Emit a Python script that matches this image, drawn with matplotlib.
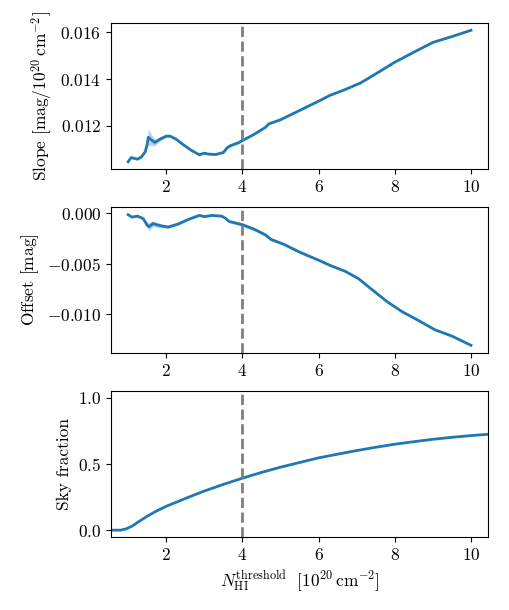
import matplotlib
matplotlib.use("Agg")
import matplotlib.pyplot as plt
import numpy as np

plt.rcParams['font.family'] = 'serif'
plt.rcParams['font.serif'] = ['cmr10', 'DejaVu Serif']
plt.rcParams['mathtext.fontset'] = 'cm'
plt.rcParams['axes.formatter.use_mathtext'] = True
plt.rcParams['font.size'] = 12.5

# slope vs threshold
x_slope = [1.0, 1.08, 1.15, 1.25, 1.35, 1.45, 1.5, 1.53, 1.6, 1.7, 1.85, 2.0, 2.1, 2.25,
           2.45, 2.65, 2.87, 3.0, 3.1, 3.3, 3.5, 3.6, 3.7, 3.9, 4.0, 4.3, 4.6, 4.7, 5.0,
           5.5, 6.0, 6.3, 6.7, 7.1, 7.5, 8.0, 8.5, 9.0, 9.5, 10.0]
slope = [0.01045, 0.01063, 0.0106, 0.01056, 0.01066, 0.01088, 0.0112, 0.0115, 0.0114,
         0.01128, 0.01143, 0.01155, 0.01155, 0.01143, 0.01118, 0.01095, 0.01075, 0.01082,
         0.01078, 0.01076, 0.01085, 0.01105, 0.01115, 0.01127, 0.01136, 0.01162, 0.01192,
         0.01208, 0.01225, 0.01265, 0.01305, 0.0133, 0.01355, 0.01383, 0.01422, 0.01472,
         0.01515, 0.01557, 0.01582, 0.01609]
slope_err = [0.00003, 0.00003, 0.00003, 0.00003, 0.00004, 0.00005, 0.00015, 0.00035,
             0.00025, 0.00015, 0.00008, 0.00006, 0.00005, 0.00005, 0.00004, 0.00003,
             0.00003, 0.00003, 0.00003, 0.00003, 0.00004, 0.00006, 0.00006, 0.00005,
             0.00004, 0.00003, 0.00003, 0.00003, 0.00002, 0.00002, 0.00002, 0.00002,
             0.00002, 0.00002, 0.00002, 0.00002, 0.00002, 0.00002, 0.00002, 0.00002]

# offset vs threshold
x_off = [1.0, 1.1, 1.25, 1.4, 1.5, 1.55, 1.65, 1.85, 2.05, 2.3, 2.6, 2.87, 3.0, 3.2, 3.45,
         3.55, 3.65, 4.0, 4.3, 4.6, 4.75, 5.1, 5.5, 6.0, 6.3, 6.7, 7.05, 7.4, 7.8, 8.2,
         8.55, 9.05, 9.5, 10.0]
offset = [-0.00016, -0.0004, -0.0003, -0.00056, -0.0012, -0.00135, -0.00105, -0.00125,
          -0.00138, -0.0011, -0.0006, -0.00023, -0.00035, -0.00023, -0.0003, -0.0005,
          -0.00082, -0.00115, -0.00158, -0.00214, -0.0026, -0.0031, -0.00385, -0.00465,
          -0.00516, -0.00575, -0.00648, -0.00755, -0.00875, -0.00975, -0.01045, -0.01151,
          -0.01214, -0.01305]
offset_err = [0.0001, 0.0001, 0.0001, 0.00012, 0.0003, 0.0004, 0.0003, 0.0002, 0.00015,
              0.00012, 0.0001, 0.0001, 0.0001, 0.0001, 0.0001, 0.00012, 0.00015, 0.00018,
              0.00015, 0.00015, 0.00015, 0.00012, 0.00012, 0.0001, 0.0001, 0.0001, 0.0001,
              0.0001, 0.0001, 0.0001, 0.0001, 0.0001, 0.0001, 0.0001]

# sky fraction vs threshold
x_sky = [0.55, 0.8, 0.95, 1.1, 1.3, 1.5, 1.75, 2.0, 2.3, 2.6, 3.0, 3.5, 4.0, 4.5, 5.0,
         5.5, 6.0, 6.5, 7.0, 7.5, 8.0, 8.5, 9.0, 9.5, 10.0, 10.45]
sky = [0.0, 0.0, 0.01, 0.03, 0.068, 0.105, 0.145, 0.18, 0.215, 0.25, 0.295, 0.345,
       0.392, 0.435, 0.475, 0.51, 0.545, 0.573, 0.6, 0.625, 0.648, 0.667, 0.685, 0.7,
       0.713, 0.723]

threshold = 4
blue = '#1f77b4'


def main():
    fig, axes = plt.subplots(3, 1, figsize=(5.09, 6.10), dpi=100)
    fig.subplots_adjust(left=0.218, right=0.959, top=0.962, bottom=0.12, hspace=0.26)

    ax = axes[0]
    s = np.array(slope)
    e = np.array(slope_err)
    ax.fill_between(x_slope, s - e, s + e, color=blue, alpha=0.3, lw=0)
    ax.plot(x_slope, slope, color=blue, lw=2)
    ax.set_yticks([0.012, 0.014, 0.016])
    ax.set_ylabel(r'Slope $[\mathrm{mag}/10^{20}\,\mathrm{cm}^{-2}]$')

    ax = axes[1]
    o = np.array(offset)
    e = np.array(offset_err)
    ax.fill_between(x_off, o - e, o + e, color=blue, alpha=0.3, lw=0)
    ax.plot(x_off, offset, color=blue, lw=2)
    ax.set_yticks([0.0, -0.005, -0.01])
    ax.set_ylabel(r'Offset $[\mathrm{mag}]$')

    ax = axes[2]
    ax.plot(x_sky, sky, color=blue, lw=2)
    ax.set_ylim(-0.05, 1.05)
    ax.set_yticks([0.0, 0.5, 1.0])
    ax.set_ylabel('Sky fraction')
    ax.set_xlabel(r'$N_\mathrm{HI}^\mathrm{threshold}\ \ [10^{20}\,\mathrm{cm}^{-2}]$')

    for ax in axes:
        ax.axvline(threshold, color='grey', ls='--', lw=2)
        ax.set_xlim(0.55, 10.45)
        ax.set_xticks([2, 4, 6, 8, 10])

    fig.savefig('out.png', dpi=100)


if __name__ == '__main__':
    main()
